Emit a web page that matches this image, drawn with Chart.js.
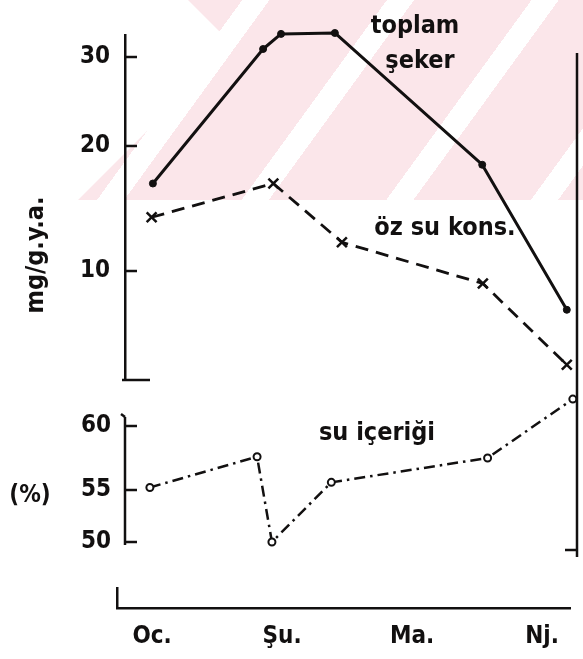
<!DOCTYPE html>
<html><head><meta charset="utf-8">
<script src="https://cdn.jsdelivr.net/npm/chart.js@4.4.0/dist/chart.umd.min.js"></script>
<style>
html,body{margin:0;padding:0;background:#fff;}
#wrap{position:relative;width:583px;height:659px;overflow:hidden;background:#fff;}
#wm{position:absolute;left:0;top:0;width:583px;height:200px;
 background:repeating-linear-gradient(126deg,#fbe6ea 0px,#fbe6ea 79px,#ffffff 79px,#ffffff 101px,#fbe6ea 101px,#fbe6ea 117px);
 clip-path:polygon(188px 0,233px 45px,78px 200px,583px 200px,583px 0);}
canvas{position:absolute;left:0;top:0;}
</style></head><body>
<div id="wrap"><div id="wm"></div>
<canvas id="c1" width="583" height="659"></canvas>
<canvas id="c2" width="583" height="659"></canvas>
<canvas id="c3" width="583" height="659"></canvas>
</div>
<script>
// ---- data ----
const months = ['Oc.', 'Şu.', 'Ma.', 'Nj.'];
const monthPos = [1, 2, 3, 4];
const sekerX = [1.01, 1.87, 2.01, 2.43, 3.58, 4.24];
const sekerY = [17.0, 30.9, 32.6, 32.7, 18.5, 6.9];
const ozsuX = [1.00, 1.95, 2.485, 3.585, 4.24];
const ozsuY = [14.3, 17.0, 12.3, 9.0, 2.5];
const suX = [0.985, 1.815, 1.93, 2.39, 3.60, 4.26];
const suY = [55.2, 57.6, 50.0, 55.6, 57.5, 62.1];
const upperTicks = [10, 20, 30];
const lowerTicks = [50, 55, 60];

const INK = '#121010';
const FONT = "'DejaVu Sans Condensed', 'DejaVu Sans', sans-serif";

// hand-drawn (uneven) axis spacing: value -> fraction of axis height
const WARPS = {
  c1: [[10, 0.3159], [20, 0.6783], [30, 0.9362]],
  c2: [[50, 0.0197], [55, 0.3618], [60, 0.7829]]
};
class WarpScale extends Chart.LinearScale {
  _knots() { return WARPS[this.chart.canvas.id]; }
  _warp(v) {
    const k = this._knots(); let i = 0;
    if (v >= k[k.length - 1][0]) i = k.length - 2;
    else if (v > k[0][0]) { while (v > k[i + 1][0]) i++; }
    const [v0, d0] = k[i], [v1, d1] = k[i + 1];
    return d0 + (v - v0) * (d1 - d0) / (v1 - v0);
  }
  _unwarp(d) {
    const k = this._knots(); let i = 0;
    if (d >= k[k.length - 1][1]) i = k.length - 2;
    else if (d > k[0][1]) { while (d > k[i + 1][1]) i++; }
    const [v0, d0] = k[i], [v1, d1] = k[i + 1];
    return v0 + (d - d0) * (v1 - v0) / (d1 - d0);
  }
  getPixelForValue(v) { return v === null || v === undefined ? NaN : this.getPixelForDecimal(this._warp(v)); }
  getValueForPixel(p) { return this._unwarp(this.getDecimalForPixel(p)); }
}
WarpScale.id = 'warp';
WarpScale.defaults = {};
Chart.register(WarpScale);

function line(ctx, x1, y1, x2, y2) { ctx.beginPath(); ctx.moveTo(x1, y1); ctx.lineTo(x2, y2); ctx.stroke(); }

const axisDeco = {
  id: 'axisDeco',
  afterDraw(chart, args, o) {
    if (!o || !o.len) return;
    const ctx = chart.ctx, s = chart.scales.y, a = chart.chartArea;
    ctx.save(); ctx.strokeStyle = INK; ctx.lineWidth = 2.5; ctx.lineCap = 'butt';
    if (o.axisTop) {
      line(ctx, a.left, o.axisTop, a.left, a.bottom);
      line(ctx, a.left - 4, o.axisTop - 3, a.left, o.axisTop);
    }
    s.ticks.forEach((t, i) => { const y = s.getPixelForTick(i); line(ctx, a.left - 1, y, a.left + o.len, y); });
    if (o.foot) line(ctx, a.left - 3, a.bottom, a.left + o.foot, a.bottom);
    if (o.frame) {
      line(ctx, a.right, o.frame[0], a.right, o.frame[1]);
      line(ctx, a.right - 12, o.frame[2], a.right, o.frame[2]);
    }
    ctx.restore();
  }
};
const notes = {
  id: 'notes',
  afterDraw(chart, args, o) {
    if (!o || !o.items) return;
    const ctx = chart.ctx;
    ctx.save(); ctx.fillStyle = INK; ctx.textAlign = 'center'; ctx.textBaseline = 'middle';
    o.items.forEach(it => {
      ctx.save();
      ctx.font = 'bold ' + (it.size || 24) + 'px ' + FONT;
      ctx.translate(it.x, it.y);
      if (it.rot) ctx.rotate(it.rot);
      ctx.fillText(it.text, 0, 0);
      ctx.restore();
    });
    ctx.restore();
  }
};

const tickFont = { family: FONT, size: 24, weight: 'bold' };
const pts = (xs, ys) => xs.map((x, i) => ({ x, y: ys[i] }));
const xHidden = { type: 'linear', display: false, min: 0.7923, max: 4.2923 };
const base = { responsive: false, animation: false, events: [], devicePixelRatio: 1 };

// upper panel
new Chart(document.getElementById('c1'), {
  type: 'line',
  data: { datasets: [
    { label: 'toplam şeker', data: pts(sekerX, sekerY), borderColor: INK, borderWidth: 3,
      pointRadius: 3.5, pointBackgroundColor: INK, pointBorderColor: INK, pointBorderWidth: 1,
      borderJoinStyle: 'round', clip: false },
    { label: 'öz su kons.', data: pts(ozsuX, ozsuY), borderColor: INK, borderWidth: 2.8,
      borderDash: [13, 8], pointStyle: 'crossRot', pointRadius: 7, pointBorderWidth: 2.5,
      pointBorderColor: INK, clip: false }
  ]},
  options: Object.assign({}, base, {
    layout: { padding: { top: 35, bottom: 279, left: 0, right: 3 } },
    plugins: { legend: { display: false }, tooltip: { enabled: false },
      axisDeco: { len: 12, foot: 25 },
      notes: { items: [
        { text: 'toplam', x: 415, y: 26, size: 25 },
        { text: 'şeker', x: 420, y: 61, size: 25 },
        { text: 'öz su kons.', x: 445, y: 228, size: 25 },
        { text: 'mg/g.y.a.', x: 36, y: 255, size: 25, rot: -Math.PI / 2 },
        { text: 'su içeriği', x: 377, y: 433, size: 25 },
        { text: '(%)', x: 30, y: 496, size: 24 }
      ] } },
    scales: {
      x: xHidden,
      y: { type: 'warp', position: 'left', min: 1.3, max: 32.5,
        afterFit(s) { s.width = 125; },
        afterBuildTicks(s) { s.ticks = upperTicks.map(v => ({ value: v })); },
        grid: { display: false, drawTicks: false },
        border: { display: true, width: 2.5, color: INK },
        ticks: { padding: 15, color: INK, font: tickFont } }
    }
  }),
  plugins: [axisDeco, notes]
});

// lower panel
new Chart(document.getElementById('c2'), {
  type: 'line',
  data: { datasets: [
    { label: 'su içeriği', data: pts(suX, suY), borderColor: INK, borderWidth: 2.5,
      borderDash: [11, 5, 2.5, 5], pointRadius: 3.5, pointBackgroundColor: '#fff',
      pointBorderColor: INK, pointBorderWidth: 2, clip: false }
  ]},
  options: Object.assign({}, base, {
    layout: { padding: { top: 393, bottom: 114, left: 0, right: 3 } },
    plugins: { legend: { display: false }, tooltip: { enabled: false },
      axisDeco: { len: 12, axisTop: 417, frame: [53, 557, 550] } },
    scales: {
      x: xHidden,
      y: { type: 'warp', position: 'left', min: 49.7, max: 64,
        afterFit(s) { s.width = 125; },
        afterBuildTicks(s) { s.ticks = lowerTicks.map(v => ({ value: v })); },
        grid: { display: false, drawTicks: false },
        border: { display: false },
        ticks: { padding: 14, color: INK, font: tickFont } }
    }
  }),
  plugins: [axisDeco]
});

// time axis
new Chart(document.getElementById('c3'), {
  type: 'line',
  data: { datasets: [] },
  options: Object.assign({}, base, {
    layout: { padding: { top: 588, bottom: 0, left: 0, right: 13 } },
    plugins: { legend: { display: false }, tooltip: { enabled: false } },
    scales: {
      x: { type: 'linear', position: 'bottom', min: 0.73, max: 4.215,
        afterFit(s) { s.height = 51; },
        afterBuildTicks(s) { s.ticks = monthPos.map(v => ({ value: v })); },
        grid: { display: false, drawTicks: false },
        border: { display: true, width: 2.5, color: INK },
        ticks: { padding: 14, color: INK, font: tickFont, maxRotation: 0, autoSkip: false,
          callback: v => months[monthPos.indexOf(v)] } },
      y: { type: 'linear', position: 'left', min: 0, max: 1,
        afterFit(s) { s.width = 117; },
        grid: { display: false, drawTicks: false },
        border: { display: true, width: 2.5, color: INK },
        ticks: { display: false } }
    }
  })
});
</script>
</body></html>
